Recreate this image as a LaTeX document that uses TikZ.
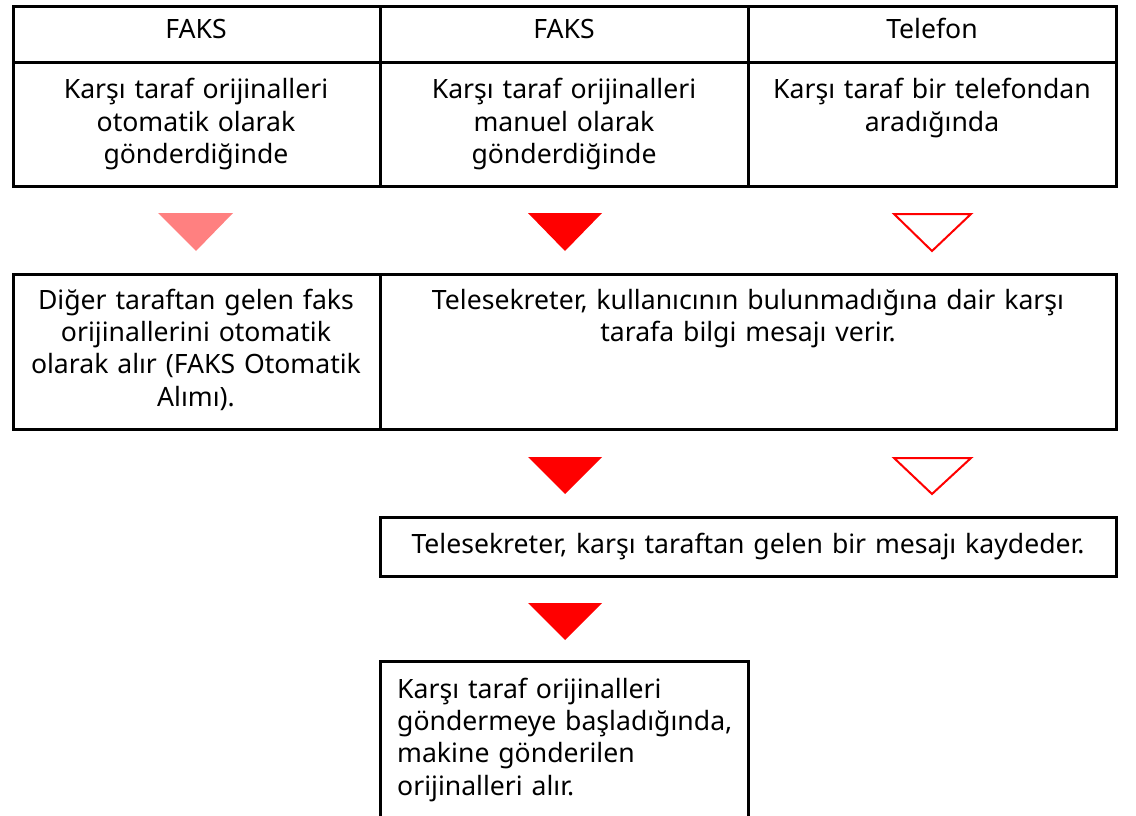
\documentclass[tikz,border=0pt]{standalone}
\usepackage{fontspec}
\setmainfont{Noto Sans}
\usetikzlibrary{positioning}

\definecolor{arrred}{RGB}{255,0,0}
\definecolor{arrpale}{RGB}{255,128,128}
\newcommand{\boxfont}{\fontsize{26.6}{32.4}\selectfont}

\begin{document}
\begin{tikzpicture}[x=1pt, y=-1pt,
  frame/.style={line width=3pt, line cap=rect},
  txt/.style={font=\boxfont, anchor=base, inner sep=0pt, align=center, text width=#1},
  trifull/.style={fill=arrred},
  tripale/.style={fill=arrpale},
  triopen/.style={draw=arrred, line width=2pt, line join=miter}]

\useasboundingbox (0,0) rectangle (1136,816);

% frames
\draw [frame] (13,7) rectangle (1116,186);
\draw [frame] (13,63) -- (1116,63);
\draw [frame] (380,7) -- (380,186);
\draw [frame] (748,7) -- (748,186);

\draw [frame] (13,274) rectangle (1116,429);
\draw [frame] (380,274) -- (380,429);

\draw [frame] (380,517) rectangle (1116,576);

\draw [frame] (380,816) -- (380,661) -- (748,661) -- (748,816);

% nodes
\node [txt=340] (H1) at (196,39) {FAKS};
\node [txt=340] (H2) at (564,39) {FAKS};
\node [txt=340] (H3) at (932,39) {Telefon};

\node [txt=340] (B1) at (196,99) {Karşı taraf orijinalleri\\otomatik olarak\\gönderdiğinde};
\node [txt=340] (B2) at (564,99) {Karşı taraf orijinalleri\\manuel olarak\\gönderdiğinde};
\node [txt=350] (B3) at (932,99) {Karşı taraf bir telefondan\\aradığında};

\node [txt=350] (R1) at (196,309) {Diğer taraftan gelen faks\\orijinallerini otomatik\\olarak alır (FAKS Otomatik\\Alımı).};
\node [txt=700] (R2) at (748,309) {Telesekreter, kullanıcının bulunmadığına dair karşı\\tarafa bilgi mesajı verir.};

\node [txt=720] (T1) at (748,553) {Telesekreter, karşı taraftan gelen bir mesajı kaydeder.};

\node [txt=340, align=left, anchor=base west] (F1) at (397,698) {Karşı taraf orijinalleri\\göndermeye başladığında,\\makine gönderilen\\orijinalleri alır.};

% arrows
\fill [tripale] (158,213) -- (233,213) -- (196,251) -- cycle;
\fill [trifull] (528,213) -- (602,213) -- (565,251) -- cycle;
\draw [triopen] (894,214) -- (971,214) -- (932,251) -- cycle;

\fill [trifull] (528,457) -- (602,457) -- (565,494) -- cycle;
\draw [triopen] (894,458) -- (971,458) -- (932,494) -- cycle;

\fill [trifull] (528,603) -- (602,603) -- (565,640) -- cycle;

\end{tikzpicture}
\end{document}
